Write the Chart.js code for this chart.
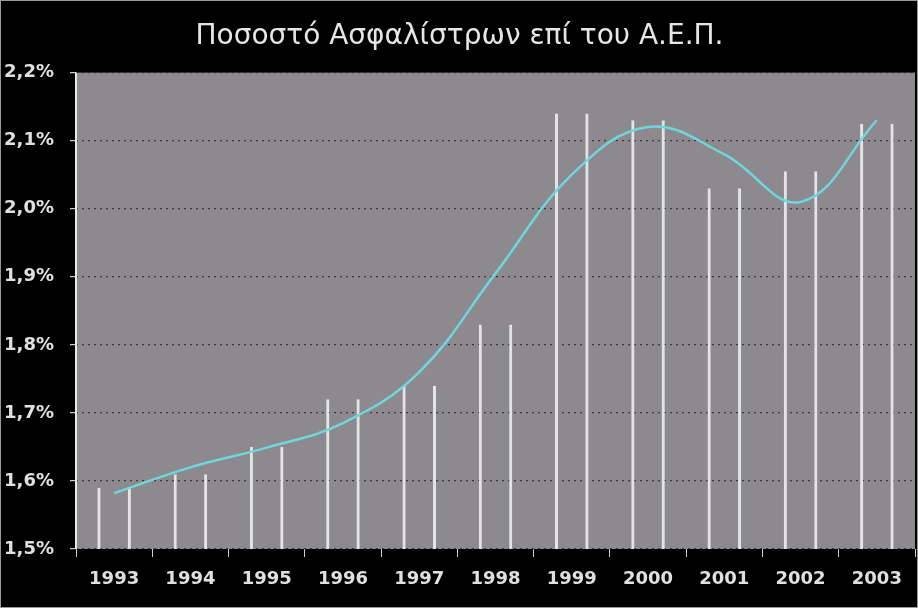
<!DOCTYPE html>
<html>
<head>
<meta charset="utf-8">
<script src="https://cdn.jsdelivr.net/npm/chart.js@4/dist/chart.umd.min.js"></script>
<style>
  html, body { margin: 0; padding: 0; background: #000; }
  #wrap { width: 918px; height: 608px; }
</style>
</head>
<body>
<div id="wrap"><canvas id="chart" width="918" height="608"></canvas></div>
<script>
// data
const years = ['1993', '1994', '1995', '1996', '1997', '1998', '1999', '2000', '2001', '2002', '2003'];
const barValues = [1.59, 1.61, 1.65, 1.72, 1.74, 1.83, 2.14, 2.13, 2.03, 2.055, 2.125];
const lineValues = [1.582, 1.62, 1.649, 1.685, 1.76, 1.905, 2.05, 2.12, 2.08, 2.01, 2.13];
const titleText = 'Ποσοστό Ασφαλίστρων επί του Α.Ε.Π.';

// paint black page, grey plot area and the solid left axis line
const backdrop = {
    id: 'backdrop',
    beforeDraw(chart) {
        const ctx = chart.ctx;
        const a = chart.chartArea;
        ctx.save();
        ctx.fillStyle = '#000';
        ctx.fillRect(0, 0, chart.width, chart.height);
        ctx.strokeStyle = '#9a9a9a';
        ctx.lineWidth = 1;
        ctx.strokeRect(0.5, 0.5, chart.width - 1, chart.height - 1);
        ctx.fillStyle = '#8d8a8f';
        ctx.fillRect(a.left, a.top, a.right - a.left, a.bottom - a.top);
        ctx.restore();
    },
    afterDatasetsDraw(chart) {
        const ctx = chart.ctx;
        const a = chart.chartArea;
        ctx.save();
        ctx.strokeStyle = '#e8e8e8';
        ctx.lineWidth = 2;
        ctx.beginPath();
        ctx.moveTo(a.left, a.top);
        ctx.lineTo(a.left, a.bottom);
        ctx.stroke();
        ctx.restore();
    }
};

new Chart(document.getElementById('chart'), {
    data: {
        labels: years,
        datasets: [
            {
                type: 'line',
                data: lineValues,
                borderColor: '#6fd6dc',
                borderWidth: 2.5,
                pointRadius: 0,
                tension: 0.4,
                order: 0
            },
            {
                type: 'bar',
                data: barValues,
                backgroundColor: 'rgba(0,0,0,0)',
                borderColor: '#e4e4e4',
                borderWidth: {left: 3, right: 3, top: 0, bottom: 0},
                categoryPercentage: 1.0,
                barPercentage: 0.44,
                order: 1
            }
        ]
    },
    options: {
        responsive: false,
        animation: false,
        layout: {padding: {left: 4, right: 3, top: 10, bottom: 0}},
        plugins: {
            legend: {display: false},
            tooltip: {enabled: false},
            title: {
                display: true,
                text: titleText,
                color: '#e6e6e6',
                font: {family: 'DejaVu Sans', size: 28, weight: 'normal'},
                padding: {top: 10, bottom: 19}
            }
        },
        scales: {
            x: {
                grid: {
                    display: true,
                    drawOnChartArea: false,
                    drawTicks: true,
                    tickLength: 8,
                    color: '#d0d0d0',
                    offset: true
                },
                border: {display: false},
                ticks: {
                    color: '#e0e0e0',
                    font: {family: 'DejaVu Sans', size: 18, weight: 'bold'},
                    padding: 12,
                    maxRotation: 0
                },
                afterFit(scale) { scale.height = 59; }
            },
            y: {
                min: 1.5,
                max: 2.2,
                grid: {
                    color: 'rgba(40,35,40,0.8)',
                    tickColor: '#d0d0d0',
                    tickLength: 6,
                    lineWidth: 1.2
                },
                border: {display: false, dash: [2, 4]},
                ticks: {
                    stepSize: 0.1,
                    color: '#e0e0e0',
                    font: {family: 'DejaVu Sans', size: 18, weight: 'bold'},
                    padding: 16,
                    callback: v => v.toFixed(1).replace('.', ',') + '%'
                },
                afterFit(scale) { scale.width = 72; }
            }
        }
    },
    plugins: [backdrop]
});
</script>
</body>
</html>
